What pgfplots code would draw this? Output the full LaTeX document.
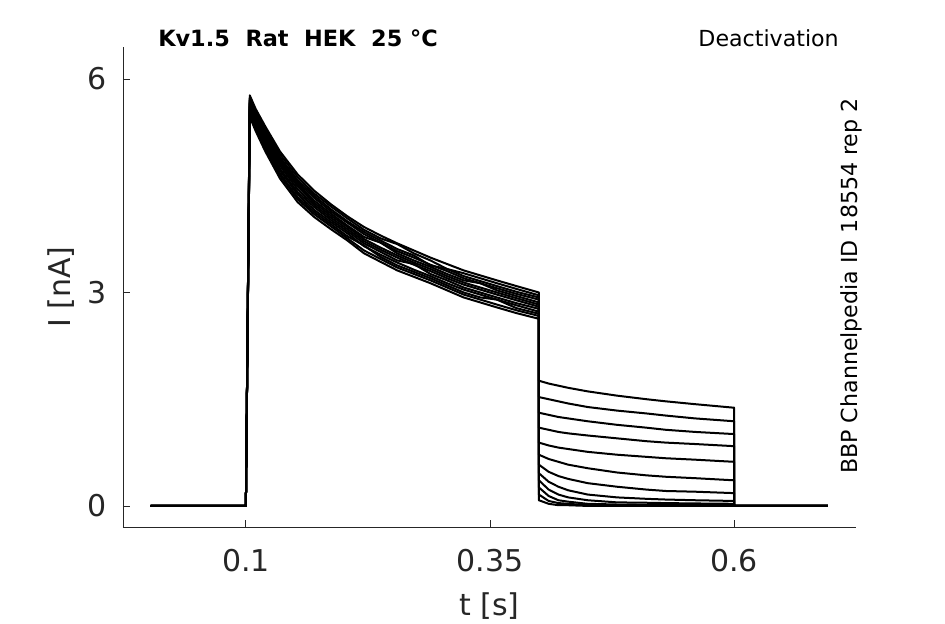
\documentclass[border=0pt]{standalone}
\usepackage{pgfplots}
\pgfplotsset{compat=1.18}
\usepackage{fontspec}
\setmainfont{DejaVu Sans}
\definecolor{axgray}{HTML}{262626}
\pgfplotsset{trace/.style={black, solid, line width=1.5pt, line join=round, mark=none}}
\begin{document}
\begin{tikzpicture}
\path[use as bounding box] (-92.25pt,-72.75pt) rectangle (616.5pt,395.25pt);
\begin{axis}[
  at={(0pt,0pt)}, anchor=south west,
  scale only axis, width=549.75pt, height=360pt,
  xmin=-0.0258, xmax=0.7247, ymin=-0.296, ymax=6.45,
  axis lines*=left,
  axis line style={axgray, line width=0.6pt},
  tick align=inside,
  major tick length=5.25pt,
  tick style={axgray, line width=0.6pt},
  xtick={0.1,0.35,0.6}, ytick={0,3,6},
  xticklabels={0.1,0.35,0.6}, yticklabels={0,3,6},
  ticklabel style={font=\fontsize{22.5}{27}\selectfont, text=axgray},
  xticklabel style={anchor=base, yshift=-33pt},
  yticklabel style={anchor=east, inner sep=0pt, xshift=-12pt},
  xlabel={t [s]},
  label style={font=\fontsize{22.5}{27}\selectfont, text=axgray},
  xlabel style={at={(axis description cs:0.5,0)}, anchor=base, yshift=-66pt},
]
% trace 1
\addplot[trace] coordinates {(0.0025,0) (0.1,0) (0.104,5.77) (0.11,5.58) (0.12,5.33) (0.135,4.98) (0.153,4.66) (0.17,4.43) (0.187,4.24) (0.204,4.07) (0.221,3.92) (0.238,3.80) (0.255,3.69) (0.272,3.59) (0.289,3.49) (0.306,3.40) (0.323,3.31) (0.34,3.24) (0.357,3.17) (0.377,3.09) (0.4,3.00)
 (0.4,1.76) (0.41,1.72) (0.42,1.69) (0.43,1.66) (0.45,1.61) (0.48,1.55) (0.51,1.50) (0.53,1.47) (0.56,1.43) (0.6,1.38) (0.6,0) (0.696,0)};
% trace 2
\addplot[trace] coordinates {(0.0025,0) (0.1,0) (0.104,5.74) (0.11,5.55) (0.12,5.30) (0.135,4.94) (0.153,4.62) (0.17,4.39) (0.187,4.21) (0.204,4.04) (0.221,3.88) (0.238,3.76) (0.255,3.68) (0.272,3.55) (0.289,3.45) (0.306,3.33) (0.323,3.27) (0.34,3.20) (0.357,3.13) (0.377,3.05) (0.4,2.96)
 (0.4,1.53) (0.41,1.50) (0.42,1.47) (0.43,1.44) (0.45,1.39) (0.48,1.34) (0.51,1.30) (0.53,1.27) (0.56,1.23) (0.6,1.19) (0.6,0) (0.696,0)};
% trace 3
\addplot[trace] coordinates {(0.0025,0) (0.1,0) (0.104,5.71) (0.11,5.52) (0.12,5.26) (0.135,4.90) (0.153,4.58) (0.17,4.36) (0.187,4.17) (0.204,4.00) (0.221,3.85) (0.238,3.73) (0.255,3.61) (0.272,3.52) (0.289,3.38) (0.306,3.33) (0.323,3.23) (0.34,3.16) (0.357,3.09) (0.377,3.01) (0.4,2.93)
 (0.4,1.31) (0.41,1.28) (0.42,1.25) (0.43,1.23) (0.45,1.19) (0.48,1.14) (0.51,1.10) (0.53,1.07) (0.56,1.04) (0.6,1.01) (0.6,0) (0.696,0)};
% trace 4
\addplot[trace] coordinates {(0.0025,0) (0.1,0) (0.104,5.69) (0.11,5.49) (0.12,5.23) (0.135,4.87) (0.153,4.55) (0.17,4.33) (0.187,4.14) (0.204,3.98) (0.221,3.82) (0.238,3.70) (0.255,3.58) (0.272,3.49) (0.289,3.39) (0.306,3.30) (0.323,3.20) (0.34,3.13) (0.357,3.06) (0.377,2.98) (0.4,2.90)
 (0.4,1.10) (0.41,1.07) (0.42,1.04) (0.43,1.02) (0.45,0.99) (0.48,0.95) (0.51,0.91) (0.53,0.89) (0.56,0.87) (0.6,0.84) (0.6,0) (0.696,0)};
% trace 5
\addplot[trace] coordinates {(0.0025,0) (0.1,0) (0.104,5.66) (0.11,5.47) (0.12,5.20) (0.135,4.84) (0.153,4.52) (0.17,4.29) (0.187,4.11) (0.204,3.94) (0.221,3.78) (0.238,3.70) (0.255,3.55) (0.272,3.45) (0.289,3.36) (0.306,3.26) (0.323,3.17) (0.34,3.13) (0.357,3.03) (0.377,2.95) (0.4,2.86)
 (0.4,0.89) (0.41,0.85) (0.42,0.82) (0.43,0.80) (0.45,0.76) (0.48,0.72) (0.51,0.69) (0.53,0.67) (0.56,0.65) (0.6,0.62) (0.6,0) (0.696,0)};
% trace 6
\addplot[trace] coordinates {(0.0025,0) (0.1,0) (0.104,5.64) (0.11,5.44) (0.12,5.17) (0.135,4.81) (0.153,4.49) (0.17,4.26) (0.187,4.08) (0.204,3.92) (0.221,3.75) (0.238,3.63) (0.255,3.52) (0.272,3.42) (0.289,3.33) (0.306,3.23) (0.323,3.14) (0.34,3.07) (0.357,3.00) (0.377,2.92) (0.4,2.83)
 (0.4,0.72) (0.41,0.66) (0.42,0.62) (0.43,0.58) (0.45,0.53) (0.48,0.47) (0.51,0.43) (0.53,0.41) (0.56,0.39) (0.6,0.36) (0.6,0) (0.696,0)};
% trace 7
\addplot[trace] coordinates {(0.0025,0) (0.1,0) (0.104,5.61) (0.11,5.41) (0.12,5.14) (0.135,4.78) (0.153,4.45) (0.17,4.23) (0.187,4.05) (0.204,3.89) (0.221,3.72) (0.238,3.60) (0.255,3.49) (0.272,3.39) (0.289,3.30) (0.306,3.20) (0.323,3.11) (0.34,3.04) (0.357,2.97) (0.377,2.89) (0.4,2.80)
 (0.4,0.58) (0.41,0.48) (0.42,0.42) (0.43,0.38) (0.45,0.32) (0.48,0.27) (0.51,0.23) (0.53,0.21) (0.56,0.20) (0.6,0.18) (0.6,0) (0.696,0)};
% trace 8
\addplot[trace] coordinates {(0.0025,0) (0.1,0) (0.104,5.58) (0.11,5.39) (0.12,5.11) (0.135,4.74) (0.153,4.41) (0.17,4.20) (0.187,4.02) (0.204,3.86) (0.221,3.69) (0.238,3.57) (0.255,3.45) (0.272,3.40) (0.289,3.26) (0.306,3.17) (0.323,3.07) (0.34,3.00) (0.357,2.93) (0.377,2.85) (0.4,2.77)
 (0.4,0.46) (0.41,0.34) (0.42,0.27) (0.43,0.22) (0.45,0.16) (0.48,0.12) (0.51,0.10) (0.53,0.09) (0.56,0.08) (0.6,0.07) (0.6,0) (0.696,0)};
% trace 9
\addplot[trace] coordinates {(0.0025,0) (0.1,0) (0.104,5.55) (0.11,5.36) (0.12,5.08) (0.135,4.71) (0.153,4.38) (0.17,4.16) (0.187,3.99) (0.204,3.83) (0.221,3.65) (0.238,3.53) (0.255,3.42) (0.272,3.32) (0.289,3.23) (0.306,3.13) (0.323,3.04) (0.34,2.97) (0.357,2.90) (0.377,2.82) (0.4,2.73)
 (0.4,0.36) (0.41,0.23) (0.42,0.16) (0.43,0.12) (0.45,0.08) (0.48,0.05) (0.51,0.045) (0.53,0.04) (0.56,0.035) (0.6,0.03) (0.6,0) (0.696,0)};
% trace 10
\addplot[trace] coordinates {(0.0025,0) (0.1,0) (0.104,5.53) (0.11,5.33) (0.12,5.05) (0.135,4.67) (0.153,4.34) (0.17,4.13) (0.187,3.96) (0.204,3.79) (0.221,3.66) (0.238,3.50) (0.255,3.38) (0.272,3.29) (0.289,3.20) (0.306,3.10) (0.323,3.00) (0.34,2.93) (0.357,2.90) (0.377,2.78) (0.4,2.70)
 (0.4,0.26) (0.41,0.14) (0.42,0.08) (0.43,0.06) (0.45,0.03) (0.48,0.02) (0.51,0.015) (0.53,0.015) (0.56,0.01) (0.6,0.01) (0.6,0) (0.696,0)};
% trace 11
\addplot[trace] coordinates {(0.0025,0) (0.1,0) (0.104,5.50) (0.11,5.30) (0.12,5.02) (0.135,4.64) (0.153,4.31) (0.17,4.10) (0.187,3.93) (0.204,3.76) (0.221,3.59) (0.238,3.47) (0.255,3.35) (0.272,3.26) (0.289,3.17) (0.306,3.07) (0.323,2.97) (0.34,2.90) (0.357,2.83) (0.377,2.75) (0.4,2.67)
 (0.4,0.16) (0.41,0.07) (0.42,0.04) (0.43,0.03) (0.45,0.01) (0.48,0.01) (0.51,0) (0.53,0) (0.56,0) (0.6,0) (0.696,0)};
% trace 12
\addplot[trace] coordinates {(0.0025,0) (0.1,0) (0.104,5.47) (0.11,5.27) (0.12,4.98) (0.135,4.60) (0.153,4.27) (0.17,4.06) (0.187,3.89) (0.204,3.73) (0.221,3.55) (0.238,3.43) (0.255,3.31) (0.272,3.22) (0.289,3.13) (0.306,3.03) (0.323,2.93) (0.34,2.86) (0.357,2.79) (0.377,2.71) (0.4,2.63)
 (0.4,0.08) (0.41,0.03) (0.42,0.01) (0.43,0.01) (0.45,0) (0.48,0) (0.6,0) (0.696,0)};
\end{axis}
\node[anchor=base west, inner sep=0pt, font=\bfseries\fontsize{16.8}{20}\selectfont] at (26.25pt,360pt) {Kv1.5\ \ Rat\ \ HEK\ \ 25 °C};
\node[anchor=base east, inner sep=0pt, font=\fontsize{16.6}{20}\selectfont] at (537pt,360pt) {Deactivation};
\node[rotate=90, anchor=base, inner sep=0pt, font=\fontsize{16.6}{20}\selectfont] at (550.5pt,180.75pt) {BBP Channelpedia ID 18554 rep 2};
\node[rotate=90, anchor=base, inner sep=0pt, font=\fontsize{22.5}{27}\selectfont, text=axgray] at (-39pt,180pt) {I [nA]};
\end{tikzpicture}
\end{document}
